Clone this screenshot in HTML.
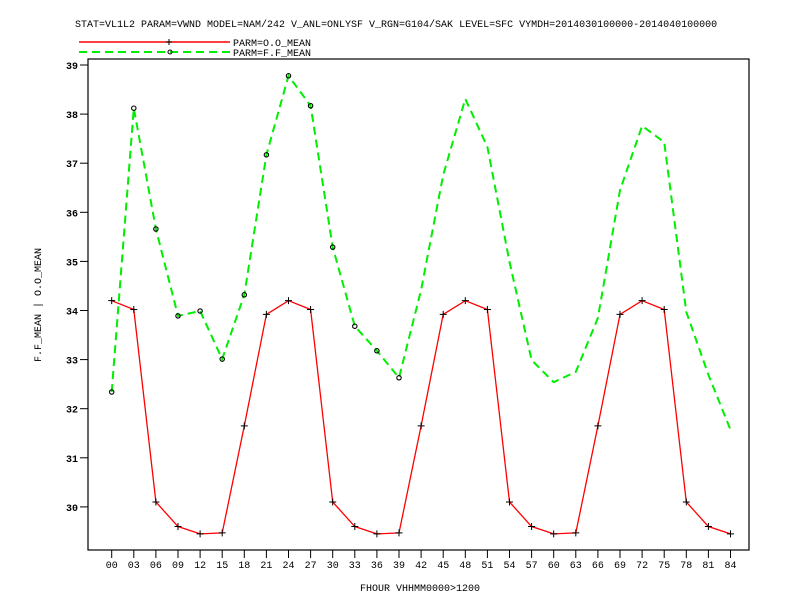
<!DOCTYPE html>
<html><head><meta charset="utf-8"><style>
html,body{margin:0;padding:0;background:#fff;}
svg{display:block;font-family:"Liberation Mono",monospace;}
</style></head><body>
<svg width="792" height="612">
<text x="75" y="27" font-size="10">STAT=VL1L2 PARAM=VWND MODEL=NAM/242 V_ANL=ONLYSF V_RGN=G104/SAK LEVEL=SFC VYMDH=2014030100000-2014040100000</text>
<g>
<line x1="79" y1="42" x2="230" y2="42" stroke="#f00" stroke-width="1.5"/>
<path d="M169 39v6M166 42h6" stroke="#000"/>
<text x="233" y="46" font-size="10">PARM=O.O_MEAN</text>
<line x1="79" y1="52" x2="230" y2="52" stroke="#0e0" stroke-width="2" stroke-dasharray="8,5"/>
<circle cx="170" cy="52" r="2" fill="none" stroke="#000"/>
<text x="233" y="56" font-size="10">PARM=F.F_MEAN</text>
</g>
<rect x="88" y="59" width="661" height="491" fill="none" stroke="#000" stroke-width="1.2"/>
<g id="axes"></g>
<g id="series"></g>
<text transform="translate(41,305) rotate(-90)" text-anchor="middle" font-size="10">F.F_MEAN | O.O_MEAN</text>
<text x="420" y="591" text-anchor="middle" font-size="10">FHOUR VHHMM0000&gt;1200</text>
</svg>
<script>
const categories=["00","03","06","09","12","15","18","21","24","27","30","33","36","39","42","45","48","51","54","57","60","63","66","69","72","75","78","81","84"];
const obsValues=[34.2,34.02,30.1,29.6,29.45,29.47,31.65,33.92,34.2,34.02,30.1,29.6,29.45,29.47,31.65,33.92,34.2,34.02,30.1,29.6,29.45,29.47,31.65,33.92,34.2,34.02,30.1,29.6,29.45];
const fcstValues=[32.34,38.12,35.66,33.89,33.99,33.01,34.32,37.17,38.78,38.17,35.29,33.68,33.18,32.63,34.42,36.76,38.31,37.33,34.99,32.99,32.54,32.75,33.85,36.45,37.76,37.43,33.97,32.69,31.57];
const fcstMarkerCount=14;
const yTicks=[30,31,32,33,34,35,36,37,38,39];
const NS="http://www.w3.org/2000/svg";
function X(i){return 111.7+i*22.1;}
function Y(v){return 65+(39-v)*49.1;}
function mk(tag,attrs,parent){const e=document.createElementNS(NS,tag);for(const k in attrs)e.setAttribute(k,attrs[k]);parent.appendChild(e);return e;}
const axes=document.getElementById('axes'),series=document.getElementById('series');
yTicks.forEach(t=>{
 const l=mk('line',{x1:80,x2:88,y1:Y(t),y2:Y(t),stroke:'#000'},axes);
 
 
 const tx=mk('text',{x:78,y:Y(t)+4,'text-anchor':'end','font-size':10,'font-weight':'bold'},axes);
 tx.textContent=t;
 
 
});
categories.forEach((c,i)=>{
 const l=mk('line',{x1:X(i),x2:X(i),y1:550,y2:558,stroke:'#000'},axes);
 
 
 const tx=mk('text',{x:X(i),y:568,'text-anchor':'middle','font-size':10},axes);
 tx.textContent=c;
 
 
});
const fp=mk('polyline',{points:fcstValues.map((v,i)=>X(i)+','+Y(v)).join(' '),fill:'none',stroke:'#0e0','stroke-width':2,'stroke-dasharray':'8,5'},series);


const op=mk('polyline',{points:obsValues.map((v,i)=>X(i)+','+Y(v)).join(' '),fill:'none',stroke:'#f00','stroke-width':1.3},series);


obsValues.forEach((v,i)=>{
 const p=mk('path',{d:`M${X(i)} ${Y(v)-3.5}v7M${X(i)-3.5} ${Y(v)}h7`,stroke:'#000','stroke-width':1},series);
 
 
});
fcstValues.forEach((v,i)=>{
 if(i>=fcstMarkerCount)return;
 const c=mk('circle',{cx:X(i),cy:Y(v),r:2.2,fill:'none',stroke:'#000','stroke-width':1.1},series);
 
 
});
</script>
</body></html>
